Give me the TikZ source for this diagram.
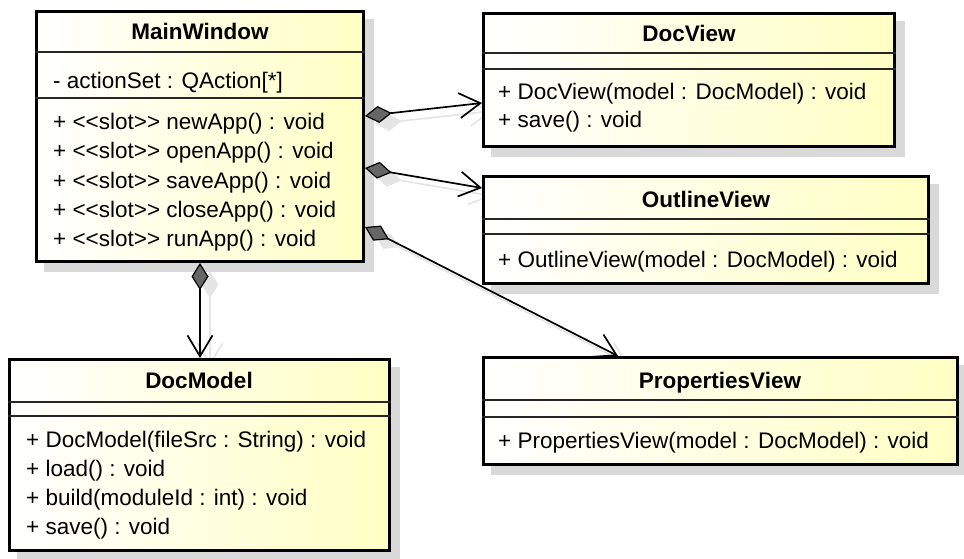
\documentclass[tikz,border=0pt]{standalone}
\usetikzlibrary{arrows.meta,calc,backgrounds}
\font\umlr="Liberation Sans" at 22.5pt
\font\umlb="Liberation Sans/B" at 22.5pt
\definecolor{umly}{HTML}{FFFFC4}
\colorlet{shad}{black!15}
\colorlet{lshad}{black!10}
\begin{document}
\begin{tikzpicture}[x=1pt,y=-1pt,font=\umlr,
  box/.style={draw=black,line width=3pt,left color=white,right color=umly,inner sep=0pt,anchor=north west},
  sepline/.style={line width=1.4pt,black!85},
  member/.style={anchor=base west,inner sep=0pt},
  ttl/.style={anchor=base,inner sep=0pt,font=\umlb},
  assoc/.style={line width=1.7pt,black,
    {Diamond[length=27pt,width=17pt,line width=1.2pt,fill=black!60]}-{Straight Barb[length=21pt,width=25pt,line width=1.7pt]}},
  assocshadow/.style={line width=1.7pt,lshad,
    {Diamond[length=27pt,width=17pt,line width=1.2pt,fill=lshad]}-{Straight Barb[length=21pt,width=25pt,line width=1.7pt]}}
]
\useasboundingbox (0,0) rectangle (964,559);

% boxes
\node[box,minimum width=327pt,minimum height=250pt] (mw) at (35,10) {};
\node[box,minimum width=411pt,minimum height=133pt] (dv) at (482,12) {};
\node[box,minimum width=445pt,minimum height=107pt] (ov) at (482,175) {};
\node[box,minimum width=474pt,minimum height=107pt] (pv) at (482,356) {};
\node[box,minimum width=380pt,minimum height=191pt] (dm) at (8,358) {};

% connector end points
\coordinate (c1a) at ($(mw.north east)+(0,106)$);
\coordinate (c1b) at ($(dv.north west)+(0,91)$);
\coordinate (c2a) at ($(mw.north east)+(0,158)$);
\coordinate (c2b) at ($(ov.north west)+(0,13)$);
\coordinate (c3a) at ($(mw.north east)+(0,217)$);
\coordinate (c3b) at ($(pv.north west)+(136,0)$);
\coordinate (c4a) at ($(mw.south west)+(165,0)$);
\coordinate (c4b) at ($(dm.north west)+(192,0)$);

\begin{scope}[on background layer]
  \foreach \b in {mw,dv,ov,pv,dm}
    \fill[shad] ($(\b.north west)+(9,9)$) rectangle ($(\b.south east)+(9,9)$);
  \draw[assocshadow] ($(c1a)+(10,8)$) -- ($(c1b)+(10,8)$);
  \draw[assocshadow] ($(c2a)+(10,8)$) -- ($(c2b)+(10,8)$);
  \draw[assocshadow] ($(c3a)+(10,8)$) -- ($(c3b)+(10,8)$);
  \draw[assocshadow] ($(c4a)+(10,8)$) -- ($(c4b)+(10,8)$);
\end{scope}

% compartment separators
\draw[sepline] ($(mw.north west)+(0,42)$) -- ($(mw.north east)+(0,42)$);
\draw[sepline] ($(mw.north west)+(0,88)$) -- ($(mw.north east)+(0,88)$);
\draw[sepline] ($(dv.north west)+(0,41)$) -- ($(dv.north east)+(0,41)$);
\draw[sepline] ($(dv.north west)+(0,57)$) -- ($(dv.north east)+(0,57)$);
\draw[sepline] ($(ov.north west)+(0,44)$) -- ($(ov.north east)+(0,44)$);
\draw[sepline] ($(ov.north west)+(0,59)$) -- ($(ov.north east)+(0,59)$);
\draw[sepline] ($(pv.north west)+(0,44)$) -- ($(pv.north east)+(0,44)$);
\draw[sepline] ($(pv.north west)+(0,61)$) -- ($(pv.north east)+(0,61)$);
\draw[sepline] ($(dm.north west)+(0,44)$) -- ($(dm.north east)+(0,44)$);
\draw[sepline] ($(dm.north west)+(0,58)$) -- ($(dm.north east)+(0,58)$);

% MainWindow
\node[ttl] (mwt) at (200,40) {MainWindow};
\node[member] (mwa) at (53,89) {- actionSet : QAction[*]};
\node[member] (mw1) at (53,130) {+ <<slot>> newApp() : void};
\node[member] (mw2) at (53,159) {+ <<slot>> openApp() : void};
\node[member] (mw3) at (53,188) {+ <<slot>> saveApp() : void};
\node[member] (mw4) at (53,217) {+ <<slot>> closeApp() : void};
\node[member] (mw5) at (53,246) {+ <<slot>> runApp() : void};

% DocView
\node[ttl] (dvt) at (689,42) {DocView};
\node[member] (dv1) at (498,100) {+ DocView(model : DocModel) : void};
\node[member] (dv2) at (498,128) {+ save() : void};

% OutlineView
\node[ttl] (ovt) at (706,207) {OutlineView};
\node[member] (ov1) at (498,267) {+ OutlineView(model : DocModel) : void};

% PropertiesView
\node[ttl] (pvt) at (720,388) {PropertiesView};
\node[member] (pv1) at (498,448) {+ PropertiesView(model : DocModel) : void};

% DocModel
\node[ttl] (dmt) at (199,388) {DocModel};
\node[member] (dm1) at (26,447) {+ DocModel(fileSrc : String) : void};
\node[member] (dm2) at (26,476) {+ load() : void};
\node[member] (dm3) at (26,505) {+ build(moduleId : int) : void};
\node[member] (dm4) at (26,534) {+ save() : void};

% associations (composition)
\draw[assoc] (c1a) -- (c1b);
\draw[assoc] (c2a) -- (c2b);
\draw[assoc] (c3a) -- (c3b);
\draw[assoc] (c4a) -- (c4b);
\end{tikzpicture}
\end{document}
